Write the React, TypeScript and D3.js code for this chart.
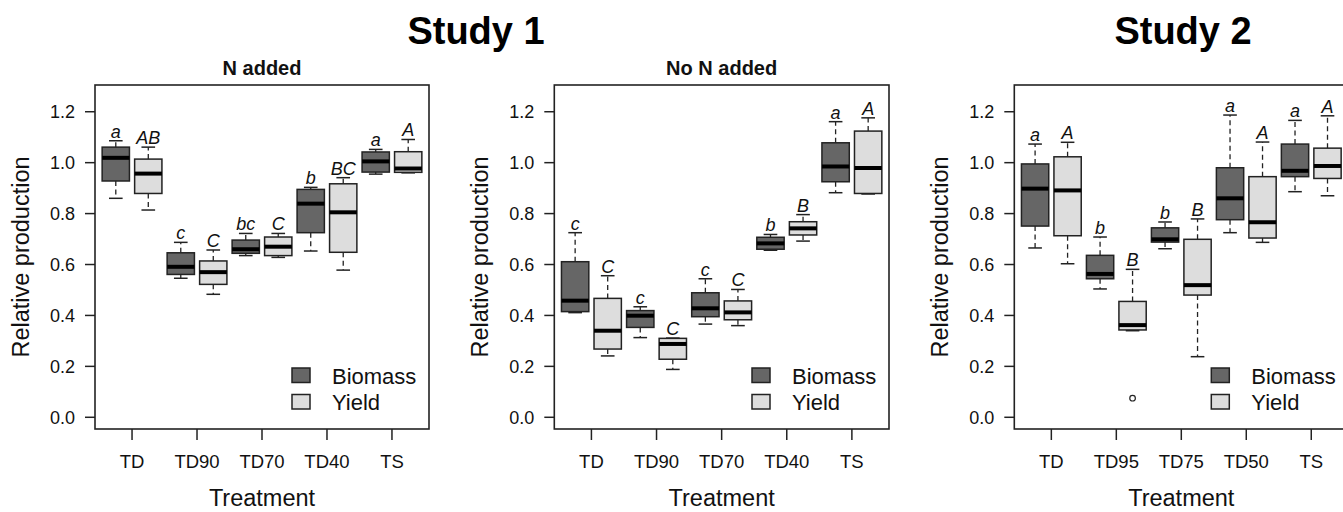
import React from "react";
import * as d3 from "d3";

// treatment names on the x axis
const study1Treatments = ["TD", "TD90", "TD70", "TD40", "TS"];
const study2Treatments = ["TD", "TD95", "TD75", "TD50", "TS"];
const yTicks = [0, 0.2, 0.4, 0.6, 0.8, 1.0, 1.2];

// each box: [lower whisker, Q1, median, Q3, upper whisker]
const nAddedBiomass = [
  [0.86, 0.928, 1.019, 1.061, 1.086],
  [0.546, 0.561, 0.591, 0.646, 0.687],
  [0.635, 0.644, 0.66, 0.696, 0.722],
  [0.653, 0.725, 0.839, 0.895, 0.903],
  [0.955, 0.963, 1.005, 1.042, 1.052],
];
const nAddedYield = [
  [0.814, 0.879, 0.957, 1.014, 1.061],
  [0.483, 0.522, 0.57, 0.614, 0.657],
  [0.628, 0.635, 0.67, 0.708, 0.722],
  [0.578, 0.648, 0.805, 0.917, 0.941],
  [0.96, 0.962, 0.977, 1.043, 1.091],
];
const noNBiomass = [
  [0.411, 0.415, 0.458, 0.611, 0.725],
  [0.313, 0.353, 0.399, 0.419, 0.434],
  [0.366, 0.395, 0.428, 0.489, 0.544],
  [0.656, 0.66, 0.683, 0.707, 0.718],
  [0.882, 0.925, 0.985, 1.078, 1.161],
];
const noNYield = [
  [0.241, 0.268, 0.34, 0.467, 0.556],
  [0.188, 0.228, 0.288, 0.31, 0.311],
  [0.36, 0.383, 0.412, 0.457, 0.502],
  [0.692, 0.716, 0.742, 0.768, 0.796],
  [0.877, 0.879, 0.979, 1.124, 1.176],
];
const study2Biomass = [
  [0.665, 0.751, 0.898, 0.995, 1.073],
  [0.504, 0.544, 0.563, 0.636, 0.708],
  [0.662, 0.688, 0.699, 0.744, 0.767],
  [0.725, 0.776, 0.86, 0.98, 1.187],
  [0.886, 0.945, 0.968, 1.073, 1.166],
];
const study2Yield = [
  [0.603, 0.713, 0.891, 1.023, 1.08],
  [0.34, 0.343, 0.362, 0.455, 0.581],
  [0.238, 0.48, 0.519, 0.699, 0.779],
  [0.687, 0.704, 0.766, 0.945, 1.081],
  [0.87, 0.938, 0.987, 1.057, 1.184],
];
const study2YieldOutliers = [[], [0.075], [], [], []];

// significance letters
const nAddedBiomassLetters = ["a", "c", "bc", "b", "a"];
const nAddedYieldLetters = ["AB", "C", "C", "BC", "A"];
const noNBiomassLetters = ["c", "c", "c", "b", "a"];
const noNYieldLetters = ["C", "C", "C", "B", "A"];
const study2BiomassLetters = ["a", "b", "b", "a", "a"];
const study2YieldLetters = ["A", "B", "B", "A", "A"];

const FONT = "'Liberation Sans', Arial, Helvetica, sans-serif";
const DARK = "#666666";
const LIGHT = "#dddddd";
const INK = "#222222";

function Box({ x, w, stats, fill, y, letter, outliers }) {
  const [lo, q1, med, q3, hi] = stats;
  const cap = w / 2;
  return (
    <g>
      {/* dashed whiskers */}
      <line x1={x} x2={x} y1={y(q3)} y2={y(hi)} stroke={INK} strokeWidth={1.3} strokeDasharray="5,3.5" />
      <line x1={x} x2={x} y1={y(q1)} y2={y(lo)} stroke={INK} strokeWidth={1.3} strokeDasharray="5,3.5" />
      <line x1={x - cap / 2} x2={x + cap / 2} y1={y(hi)} y2={y(hi)} stroke={INK} strokeWidth={1.5} />
      <line x1={x - cap / 2} x2={x + cap / 2} y1={y(lo)} y2={y(lo)} stroke={INK} strokeWidth={1.5} />
      <rect x={x - w / 2} y={y(q3)} width={w} height={y(q1) - y(q3)} fill={fill} stroke={INK} strokeWidth={1.5} />
      <line x1={x - w / 2} x2={x + w / 2} y1={y(med)} y2={y(med)} stroke="#000" strokeWidth={4} />
      {outliers.map((o, i) => (
        <circle key={i} cx={x} cy={y(o)} r={2.8} fill="none" stroke={INK} strokeWidth={1.2} />
      ))}
      <text x={x} y={y(hi) - 3} textAnchor="middle" fontStyle="italic" fontSize={18} fontFamily={FONT} fill="#111">
        {letter}
      </text>
    </g>
  );
}

function Panel({ left, right, top, bottom, treatments, biomass, yieldData, bLetters, yLetters, yOutliers, subtitle }) {
  const x = d3.scaleLinear().domain([0.43, 5.57]).range([left, right]);
  const y = d3.scaleLinear().domain([-0.046, 1.305]).range([bottom, top]);
  const offset = 0.25;
  const bw = x(0.42) - x(0);
  const cx = (left + right) / 2;
  const cy = (top + bottom) / 2;

  return (
    <g fontFamily={FONT}>
      {subtitle && (
        <text x={cx} y={75} textAnchor="middle" fontWeight="bold" fontSize={20} fill="#111">
          {subtitle}
        </text>
      )}
      {/* y axis */}
      {yTicks.map((t) => (
        <g key={t}>
          <line x1={left - 10} x2={left} y1={y(t)} y2={y(t)} stroke={INK} strokeWidth={1.5} />
          <text x={left - 20} y={y(t) + 6.5} textAnchor="end" fontSize={18} fill="#111">
            {d3.format(".1f")(t)}
          </text>
        </g>
      ))}
      {/* x axis */}
      {treatments.map((t, i) => (
        <g key={t}>
          <line x1={x(i + 1)} x2={x(i + 1)} y1={bottom} y2={bottom + 11} stroke={INK} strokeWidth={1.5} />
          <text x={x(i + 1)} y={468} textAnchor="middle" fontSize={18.5} fill="#111">
            {t}
          </text>
        </g>
      ))}
      <text x={cx} y={506} textAnchor="middle" fontSize={23.5} fill="#111">
        Treatment
      </text>
      <text
        transform={`translate(${left - 66},${cy}) rotate(-90)`}
        textAnchor="middle"
        fontSize={23.5}
        fill="#111"
      >
        Relative production
      </text>

      {biomass.map((s, i) => (
        <Box key={"b" + i} x={x(i + 1 - offset)} w={bw} stats={s} fill={DARK} y={y} letter={bLetters[i]} outliers={[]} />
      ))}
      {yieldData.map((s, i) => (
        <Box key={"y" + i} x={x(i + 1 + offset)} w={bw} stats={s} fill={LIGHT} y={y} letter={yLetters[i]} outliers={yOutliers[i]} />
      ))}

      {/* legend */}
      <rect x={right - 137} y={368} width={18} height={14.5} fill={DARK} stroke={INK} strokeWidth={1.5} />
      <rect x={right - 137} y={394.5} width={18} height={14.5} fill={LIGHT} stroke={INK} strokeWidth={1.5} />
      <text x={right - 97} y={383.5} fontSize={22} fill="#111">Biomass</text>
      <text x={right - 97} y={410} fontSize={22} fill="#111">Yield</text>

      <rect x={left} y={top} width={right - left} height={bottom - top} fill="none" stroke={INK} strokeWidth={1.6} />
    </g>
  );
}

export default function App() {
  return (
    <svg
      width={1343}
      height={512}
      style={{ position: "absolute", left: 0, top: 0, background: "#fff" }}
    >
      <text x={476} y={44} textAnchor="middle" fontFamily={FONT} fontWeight="bold" fontSize={38} fill="#000">
        Study 1
      </text>
      <text x={1183} y={44} textAnchor="middle" fontFamily={FONT} fontWeight="bold" fontSize={38} fill="#000">
        Study 2
      </text>
      <Panel
        left={95}
        right={429}
        top={85}
        bottom={429}
        treatments={study1Treatments}
        biomass={nAddedBiomass}
        yieldData={nAddedYield}
        bLetters={nAddedBiomassLetters}
        yLetters={nAddedYieldLetters}
        yOutliers={[[], [], [], [], []]}
        subtitle="N added"
      />
      <Panel
        left={554.3}
        right={889}
        top={85}
        bottom={429}
        treatments={study1Treatments}
        biomass={noNBiomass}
        yieldData={noNYield}
        bLetters={noNBiomassLetters}
        yLetters={noNYieldLetters}
        yOutliers={[[], [], [], [], []]}
        subtitle="No N added"
      />
      <Panel
        left={1014.3}
        right={1348.3}
        top={85}
        bottom={429}
        treatments={study2Treatments}
        biomass={study2Biomass}
        yieldData={study2Yield}
        bLetters={study2BiomassLetters}
        yLetters={study2YieldLetters}
        yOutliers={study2YieldOutliers}
        subtitle=""
      />
    </svg>
  );
}
